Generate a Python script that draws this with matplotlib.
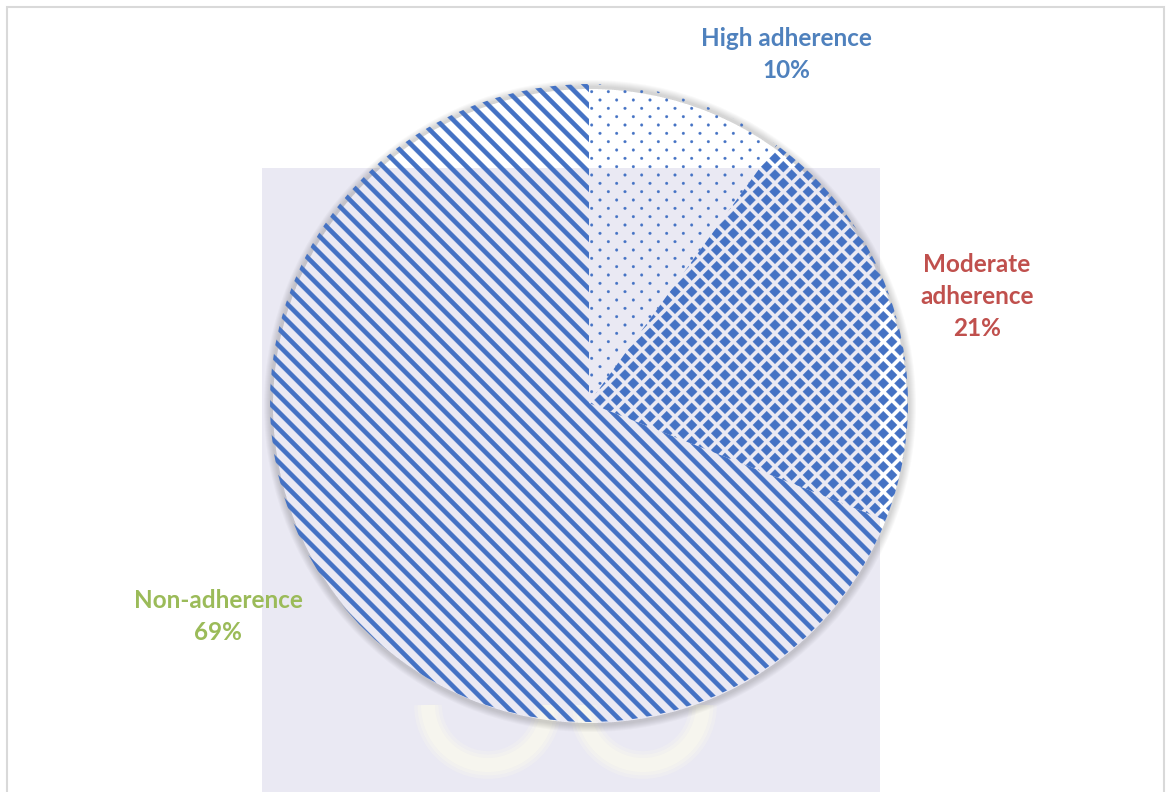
import numpy as np
import matplotlib
matplotlib.use('Agg')
import matplotlib.pyplot as plt
import matplotlib.hatch as mhatch
from matplotlib.path import Path
from matplotlib.patches import Rectangle, Arc, Wedge

categories = ['High adherence', 'Moderate adherence', 'Non-adherence']
shares = [10, 21, 69]
label_lines = [['High adherence'], ['Moderate', 'adherence'], ['Non-adherence']]
label_colors = ['#4F81BD', '#C0504D', '#9BBB59']
hatches = ['.', '*', 'O']   # dots, diamonds, thick stripes (custom below)

BLUE = '#4472C4'
W, H = 1168, 792


# --- custom hatch fills (matplotlib has no diamond checker) ---
class LatticeFill(mhatch.HatchPatternBase):
    char = '*'
    shape = Path.unit_regular_polygon(4)
    size = 0.055   # inch

    def __init__(self, hatch, density):
        n = hatch.count(self.char) * density
        if n:
            pts = [(i / n, j / n) for i in range(n + 1) for j in range(n + 1)]
            pts += [((i + .5) / n, (j + .5) / n) for i in range(n) for j in range(n)]
            self.centers = np.array(pts)
        else:
            self.centers = np.empty((0, 2))
        self.num_vertices = len(self.centers) * len(self.shape.vertices)

    def set_vertices_and_codes(self, vertices, codes):
        k = len(self.shape.vertices)
        sh = self.shape.vertices * self.size
        for i, c in enumerate(self.centers):
            vertices[i * k:(i + 1) * k] = sh + c
            codes[i * k:(i + 1) * k] = self.shape.codes


class DotFill(LatticeFill):
    char = '.'
    shape = Path.unit_regular_polygon(8)
    size = 0.014


class ThickStripes(mhatch.HatchPatternBase):
    def __init__(self, hatch, density):
        self.n = hatch.count('O') * density
        self.num_vertices = (2 * self.n + 3) * 5 if self.n else 0

    def set_vertices_and_codes(self, vertices, codes):
        h = 0.031
        for i, k in enumerate(range(-1, 2 * self.n + 2)):
            c = k / self.n
            vertices[i * 5:(i + 1) * 5] = [(-1, c - h + 1), (2, c - h - 2),
                                           (2, c + h - 2), (-1, c + h + 1), (0, 0)]
            codes[i * 5:(i + 1) * 5] = [Path.MOVETO, Path.LINETO, Path.LINETO,
                                        Path.LINETO, Path.CLOSEPOLY]


mhatch._hatch_types[:] = [mhatch.HorizontalHatch, mhatch.VerticalHatch,
                          mhatch.NorthEastHatch, mhatch.SouthEastHatch,
                          mhatch.SmallCircles, LatticeFill, DotFill, ThickStripes]
plt.rcParams['hatch.linewidth'] = 0.2

fig = plt.figure(figsize=(W / 100, H / 100), dpi=100)
ax = fig.add_axes([0, 0, 1, 1])

cx, cy, r = 589, H - 403, 319

# faint watermark behind the chart
ax.add_patch(Rectangle((262, 0), 880 - 262, H - 168, facecolor='#EAE9F3',
                       edgecolor='none', zorder=0))
for ax_x in [488, 643]:
    for lw, a in [(20, 0.25), (15, 0.35), (10, 0.5)]:
        ax.add_patch(Arc((ax_x, H - 705), 120, 120, theta1=180, theta2=360,
                         color='#FBFAEE', lw=lw, alpha=a, zorder=0.5))

# soft shadow, mostly below the pie
for k in range(1, 8):
    ax.add_patch(Wedge((cx + 1, cy - 3), r + k, 0, 360, width=k + 2,
                       facecolor='black', edgecolor='none', alpha=0.022, zorder=1))

wedges, _ = ax.pie(shares, startangle=90, counterclock=False, center=(cx, cy),
                   radius=r, colors=['none'] * 3, hatch=hatches,
                   wedgeprops=dict(edgecolor=BLUE, linewidth=0, zorder=2))

# labels
baselines = [46, 272, 608]
centers_x = [786, 977, 218]
for lines, val, col, x, y in zip(label_lines, shares, label_colors, centers_x, baselines):
    for i, t in enumerate(lines + [f'{val}%']):
        ax.text(x, H - (y + 32 * i), t, ha='center', va='baseline', color=col,
                fontsize=17.5, fontweight='bold', family=['Lato', 'DejaVu Sans'])

# outer frame
ax.add_patch(Rectangle((7, -20), 1157, H - 7 + 20, facecolor='none',
                       edgecolor='#D9D9D9', lw=1.5, zorder=5))

ax.set_xlim(0, W)
ax.set_ylim(0, H)
ax.axis('off')
fig.savefig('out.png', dpi=100)
